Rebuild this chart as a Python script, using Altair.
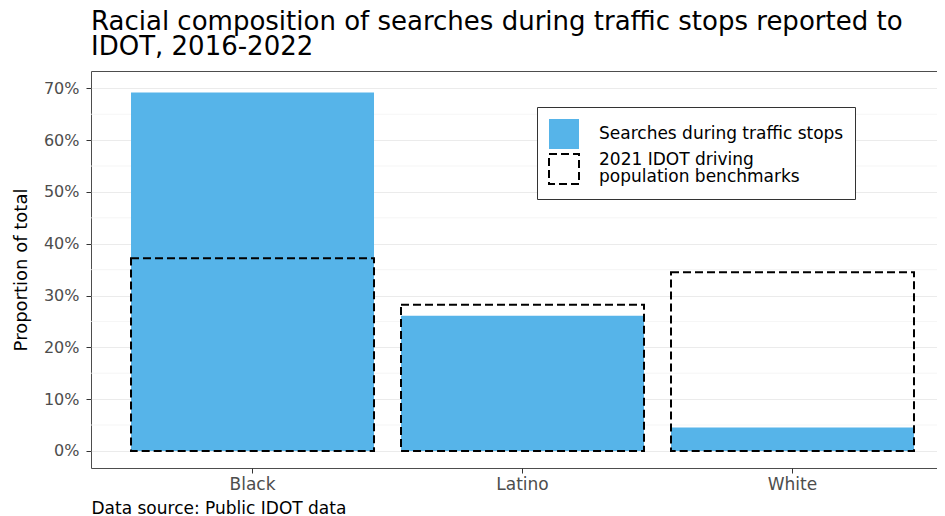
import altair as alt
import pandas as pd

categories = ["Black", "Latino", "White"]
searches = [0.692, 0.261, 0.045]
benchmarks = [0.372, 0.282, 0.345]
series_names = ["Searches during traffic stops", "2021 IDOT driving population benchmarks"]
y_ticks = [0.0, 0.1, 0.2, 0.3, 0.4, 0.5, 0.6, 0.7]
minor_ticks = [0.05, 0.15, 0.25, 0.35, 0.45, 0.55, 0.65]
title_lines = ["Racial composition of searches during traffic stops reported to", "IDOT, 2016-2022"]

rows = []
for c, v in zip(categories, searches):
    rows.append({"race": c, "share": v, "series": series_names[0]})
for c, v in zip(categories, benchmarks):
    rows.append({"race": c, "share": v, "series": series_names[1]})
df = pd.DataFrame(rows)
minor_df = pd.DataFrame({"share": minor_ticks})

FONT = "DejaVu Sans"
yscale = alt.Scale(domain=[-0.033, 0.7335], nice=False, zero=False)

legend = alt.Legend(
    orient="none", legendX=446, legendY=36, title=None,
    symbolType="square", symbolSize=900, symbolStrokeWidth=2,
    labelFontSize=17, labelFont=FONT, labelColor="black", labelOffset=19, labelLimit=400,
    labelBaseline=alt.ExprRef("datum.index == 1 ? 'bottom' : 'middle'"),
    padding=11, strokeColor="#333333", fillColor="white", rowPadding=-3,
    labelExpr="datum.label == '" + series_names[1] + "' ? ['2021 IDOT driving', 'population benchmarks'] : datum.label",
)

minor = alt.Chart(minor_df).mark_rule(color="#f2f2f2", strokeWidth=0.8).encode(
    y=alt.Y("share:Q", scale=yscale)
)

bars = alt.Chart(df).mark_bar(strokeWidth=2).encode(
    x=alt.X(
        "race:N", sort=categories,
        scale=alt.Scale(paddingInner=0.1, paddingOuter=0.1167, align=0.635),
        axis=alt.Axis(
            title="Data source: Public IDOT data", titleAnchor="start", titleAlign="left",
            titleFontSize=17, titleFont=FONT, titleColor="black", titleFontWeight="normal", titlePadding=8,
            labelAngle=0, labelFontSize=17, labelFont=FONT, labelColor="#4d4d4d", labelPadding=3,
            grid=False, domain=False, tickColor="#333333", tickSize=5, tickWidth=1,
        ),
    ),
    y=alt.Y(
        "share:Q", stack=None, scale=yscale,
        axis=alt.Axis(
            title="Proportion of total", titleFontSize=18, titleFont=FONT, titleColor="black",
            titleFontWeight="normal", titlePadding=13,
            values=y_ticks, format=".0%", labelFontSize=16, labelFont=FONT, labelColor="#4d4d4d",
            labelPadding=7, grid=True, gridColor="#ebebeb", gridWidth=1.2, domain=False,
            tickColor="#333333", tickSize=5, tickWidth=1,
        ),
    ),
    y2=alt.datum(0),
    fill=alt.Fill("series:N", scale=alt.Scale(domain=series_names, range=["#56B4E9", "transparent"]), legend=legend),
    stroke=alt.Stroke("series:N", scale=alt.Scale(domain=series_names, range=["transparent", "black"]), legend=legend),
    strokeDash=alt.StrokeDash("series:N", scale=alt.Scale(domain=series_names, range=[[1, 0], [8, 4]]), legend=legend),
)

chart = alt.layer(minor, bars).properties(
    width=846, height=397,
    autosize=alt.AutoSizeParams(type="none"),
    padding={"left": 83, "top": 63, "right": 0, "bottom": 48},
    title=alt.TitleParams(
        text=title_lines, anchor="start", frame="group", fontSize=26, font=FONT,
        fontWeight="normal", color="black", lineHeight=25, offset=11,
    ),
).configure(
    font=FONT, style={"guide-label": {"lineHeight": 17}}
).configure_view(stroke="#4d4d4d", strokeWidth=1)

chart.save("out.html", embed_options={"renderer": "svg", "actions": False})
